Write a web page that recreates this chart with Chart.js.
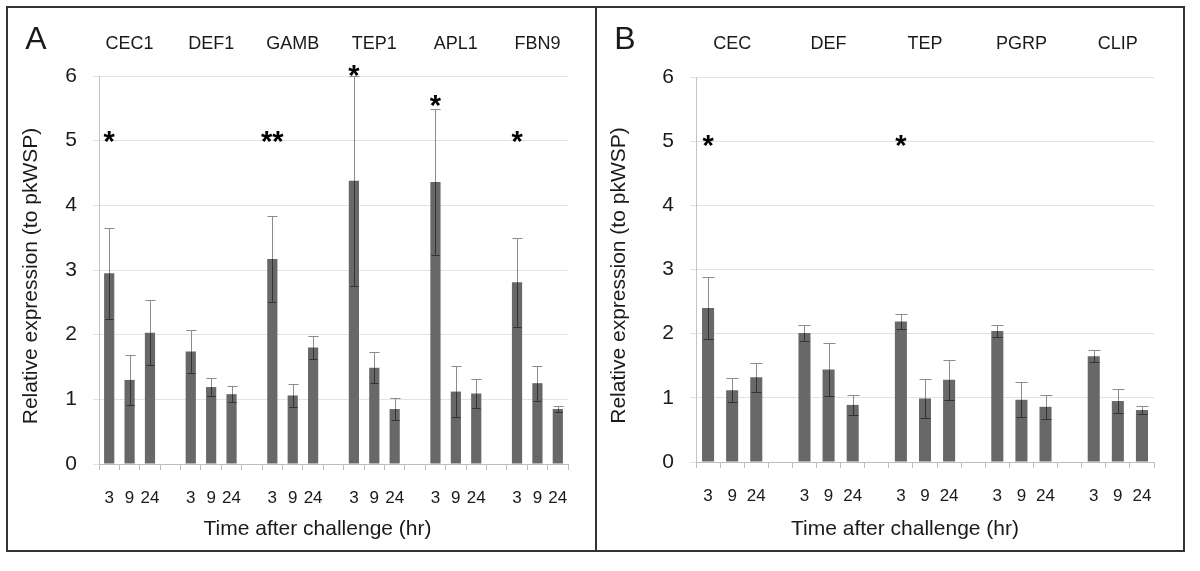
<!DOCTYPE html>
<html lang="en">
<head>
<meta charset="UTF-8">
<title>Relative expression after challenge</title>
<script src="https://cdn.jsdelivr.net/npm/chart.js"></script>
<style>
  body { margin: 0; background: #fff; }
  #wrap { position: relative; width: 1200px; height: 571px; }
  canvas { position: absolute; top: 0; }
  #chartA { left: 0; }
  #chartB { left: 596px; }
  .frame { position: absolute; left: 6px; top: 6px; width: 1179px; height: 546px; border: 2px solid #333; box-sizing: border-box; }
  .divider { position: absolute; left: 595px; top: 6px; width: 2px; height: 546px; background: #333; }
</style>
</head>
<body>
<div id="wrap">
  <canvas id="chartA" width="596" height="571"></canvas>
  <canvas id="chartB" width="604" height="571"></canvas>
  <div class="frame"></div>
  <div class="divider"></div>
</div>
<script>
const times = ['3', '9', '24'];

// panel A
const genesA = ['CEC1', 'DEF1', 'GAMB', 'TEP1', 'APL1', 'FBN9'];
const meanA = [2.95, 1.30, 2.03, 1.74, 1.19, 1.08, 3.17, 1.06, 1.80, 4.38, 1.49, 0.85, 4.36, 1.12, 1.09, 2.81, 1.25, 0.85];
const errA  = [0.70, 0.39, 0.50, 0.33, 0.14, 0.12, 0.67, 0.18, 0.18, 1.62, 0.24, 0.17, 1.13, 0.40, 0.23, 0.69, 0.27, 0.04];
const starGeneA = [0, 2, 3, 4, 5];
const starLevelA = [5.11, 5.11, 6.13, 5.66, 5.11];
const starTextA = ['*', '**', '*', '*', '*'];

// panel B
const genesB = ['CEC', 'DEF', 'TEP', 'PGRP', 'CLIP'];
const meanB = [2.40, 1.12, 1.32, 2.01, 1.44, 0.89, 2.19, 0.99, 1.28, 2.04, 0.97, 0.86, 1.65, 0.95, 0.81];
const errB  = [0.48, 0.19, 0.23, 0.13, 0.41, 0.16, 0.12, 0.30, 0.31, 0.09, 0.27, 0.19, 0.09, 0.19, 0.06];
const starGeneB = [0, 2];
const starLevelB = [5.05, 5.05];
const starTextB = ['*', '*'];

const yMin = 0, yMax = 6, yStep = 1;
const yTitle = 'Relative expression (to pkWSP)';
const xTitle = 'Time after challenge (hr)';

const FONT = "'Liberation Sans', Arial, Helvetica, sans-serif";
const TEXT = '#1a1a1a';

// 3 bars per gene with one empty slot between genes
function slotLabels(genes) {
  const out = [];
  genes.forEach((g, i) => {
    if (i > 0) out.push('');
    out.push(...times);
  });
  return out;
}
function slotValues(genes, vals) {
  const out = [];
  genes.forEach((g, i) => {
    if (i > 0) out.push(null);
    out.push(...vals.slice(i * 3, i * 3 + 3));
  });
  return out;
}

const panelDecor = {
  id: 'panelDecor',
  afterDatasetsDraw(chart, args, o) {
    const ctx = chart.ctx;
    const xs = chart.scales.x, ys = chart.scales.y;
    const bars = chart.getDatasetMeta(0).data;
    ctx.save();

    // error bars
    ctx.lineWidth = 1;
    o.genes.forEach((g, i) => {
      times.forEach((t, j) => {
        const k = i * 3 + j;
        const bar = bars[i * 4 + j];
        const cx = Math.round(bar.x) + 0.5;
        const half = bar.width / 2;
        const yTop = Math.round(ys.getPixelForValue(o.mean[k] + o.err[k])) + 0.5;
        const yMid = ys.getPixelForValue(o.mean[k]);
        const yBot = Math.round(ys.getPixelForValue(o.mean[k] - o.err[k])) + 0.5;
        ctx.strokeStyle = '#8c8c8c';
        ctx.beginPath();
        ctx.moveTo(cx, yMid); ctx.lineTo(cx, yTop);
        ctx.moveTo(cx - half, yTop); ctx.lineTo(cx + half, yTop);
        ctx.stroke();
        ctx.strokeStyle = '#333';
        ctx.beginPath();
        ctx.moveTo(cx, yMid); ctx.lineTo(cx, yBot);
        ctx.moveTo(cx - half + 1, yBot); ctx.lineTo(cx + half - 1, yBot);
        ctx.stroke();
      });
    });

    ctx.fillStyle = TEXT;
    ctx.textAlign = 'center';
    ctx.textBaseline = 'alphabetic';

    // gene names above the groups
    ctx.font = '18px ' + FONT;
    o.genes.forEach((g, i) => ctx.fillText(g, bars[i * 4 + 1].x, 49));

    // significance marks
    ctx.fillStyle = '#000';
    ctx.font = 'bold 29px ' + FONT;
    o.starGene.forEach((g, i) => {
      ctx.fillText(o.starText[i], bars[g * 4].x, ys.getPixelForValue(o.starLevel[i]) + 17);
    });
    ctx.fillStyle = TEXT;

    // panel letter
    ctx.font = '32px ' + FONT;
    ctx.fillText(o.letter, o.letterX, 49);

    // axis titles
    ctx.font = '21px ' + FONT;
    ctx.fillText(xTitle, (xs.left + xs.right) / 2 + o.xShift, 535);
    ctx.translate(o.yTitleX, (ys.top + ys.bottom) / 2 + 6);
    ctx.rotate(-Math.PI / 2);
    ctx.fillText(yTitle, 0, 0);
    ctx.restore();
  }
};

function makePanel(id, genes, mean, err, stars, geo) {
  return new Chart(document.getElementById(id), {
    type: 'bar',
    data: {
      labels: slotLabels(genes),
      datasets: [{
        data: slotValues(genes, mean),
        backgroundColor: '#686868',
        borderWidth: 0,
        barPercentage: 0.5,
        categoryPercentage: 1
      }]
    },
    options: {
      responsive: false,
      animation: false,
      devicePixelRatio: 1,
      layout: { padding: { left: 0, top: geo.top, right: geo.right, bottom: 0 } },
      plugins: {
        legend: { display: false },
        tooltip: { enabled: false },
        panelDecor: {
          genes, mean, err,
          starGene: stars[0], starLevel: stars[1], starText: stars[2],
          letter: geo.letter, letterX: geo.letterX,
          yTitleX: geo.yTitleX, xShift: geo.xShift
        }
      },
      scales: {
        x: {
          afterFit: s => { s.height = geo.xHeight; },
          grid: { display: true, drawOnChartArea: false, tickLength: 6, color: '#bdbdbd', offset: true },
          border: { color: '#bdbdbd' },
          ticks: { autoSkip: false, maxRotation: 0, padding: 18, color: TEXT, font: { family: FONT, size: 17 } }
        },
        y: {
          min: yMin, max: yMax,
          afterFit: s => { s.width = geo.yWidth; },
          grid: { color: '#e3e3e3', tickLength: 6 },
          border: { color: '#c4c4c4' },
          ticks: { stepSize: yStep, padding: 16, color: TEXT, font: { family: FONT, size: 21 } }
        }
      }
    },
    plugins: [panelDecor]
  });
}

makePanel('chartA', genesA, meanA, errA, [starGeneA, starLevelA, starTextA],
  { top: 76, right: 28, xHeight: 107, yWidth: 99, letter: 'A', letterX: 36, yTitleX: 37, xShift: -16 });
makePanel('chartB', genesB, meanB, errB, [starGeneB, starLevelB, starTextB],
  { top: 77, right: 46, xHeight: 109, yWidth: 100, letter: 'B', letterX: 29, yTitleX: 29, xShift: -20 });
</script>
</body>
</html>
